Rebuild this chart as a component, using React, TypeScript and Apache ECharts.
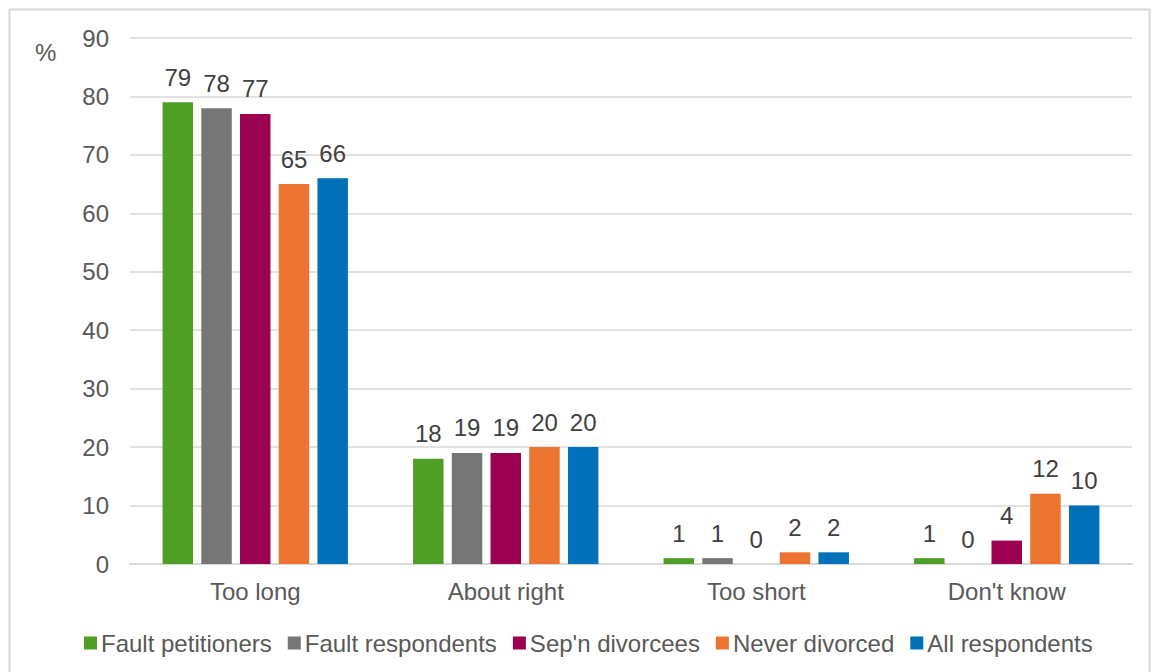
import React, { useEffect, useRef } from "react";
import * as echarts from "echarts";

const categories = ["Too long", "About right", "Too short", "Don't know"];
const seriesNames = ["Fault petitioners", "Fault respondents", "Sep'n divorcees", "Never divorced", "All respondents"];
const faultPetitioners = [79, 18, 1, 1];
const faultRespondents = [78, 19, 1, 0];
const sepnDivorcees = [77, 19, 0, 4];
const neverDivorced = [65, 20, 2, 12];
const allRespondents = [66, 20, 2, 10];
const colors = ["#4f9f27", "#767676", "#9b0051", "#ed7430", "#0070b8"];
const yTicks = { min: 0, max: 90, interval: 10 };

export default function App() {
  const ref = useRef<HTMLDivElement>(null);
  useEffect(() => {
    if (!ref.current) return;
    const chart = echarts.init(ref.current, undefined, { renderer: "svg" });
    const values = [faultPetitioners, faultRespondents, sepnDivorcees, neverDivorced, allRespondents];
    const font = "'Liberation Sans', Arial, sans-serif";
    chart.setOption({
      animation: false,
      backgroundColor: "#ffffff",
      textStyle: { fontFamily: font },
      graphic: [
        {
          type: "rect",
          shape: { x: 9.5, y: 9.5, width: 1140, height: 680 },
          style: { fill: "none", stroke: "#d9d9d9", lineWidth: 2 },
          silent: true,
          z: -10,
        },
        {
          type: "text",
          left: 35,
          top: 40,
          style: { text: "%", fontSize: 24, fill: "#595959", fontFamily: font },
        },
      ],
      grid: { left: 130, right: 23, top: 38, bottom: 108, containLabel: false },
      legend: {
        data: seriesNames,
        top: 626,
        left: 79,
        itemWidth: 13,
        itemHeight: 13,
        itemGap: 16,
        icon: "rect",
        textStyle: { fontSize: 24, color: "#595959", fontFamily: font, padding: [0, 0, 0, -1] },
      },
      xAxis: {
        type: "category",
        data: categories,
        axisLine: { lineStyle: { color: "#d9d9d9", width: 2 } },
        axisTick: { show: false },
        axisLabel: { fontSize: 24, color: "#595959", margin: 15, fontFamily: font },
      },
      yAxis: {
        type: "value",
        min: yTicks.min,
        max: yTicks.max,
        interval: yTicks.interval,
        axisLine: { show: false },
        axisTick: { show: false },
        axisLabel: { fontSize: 24, color: "#595959", margin: 21, fontFamily: font },
        splitLine: { lineStyle: { color: "#d9d9d9", width: 1.5 } },
      },
      series: seriesNames.map((name, i) => ({
        name,
        type: "bar",
        data: values[i],
        barGap: "27%",
        barCategoryGap: "26%",
        itemStyle: { color: colors[i] },
        label: {
          show: true,
          position: "top",
          distance: 13,
          fontSize: 24,
          color: "#404040",
          fontFamily: font,
        },
      })),
    });
    return () => chart.dispose();
  }, []);
  return (
    <div
      ref={ref}
      style={{ position: "absolute", left: 0, top: 0, width: 1155, height: 672 }}
    />
  );
}
